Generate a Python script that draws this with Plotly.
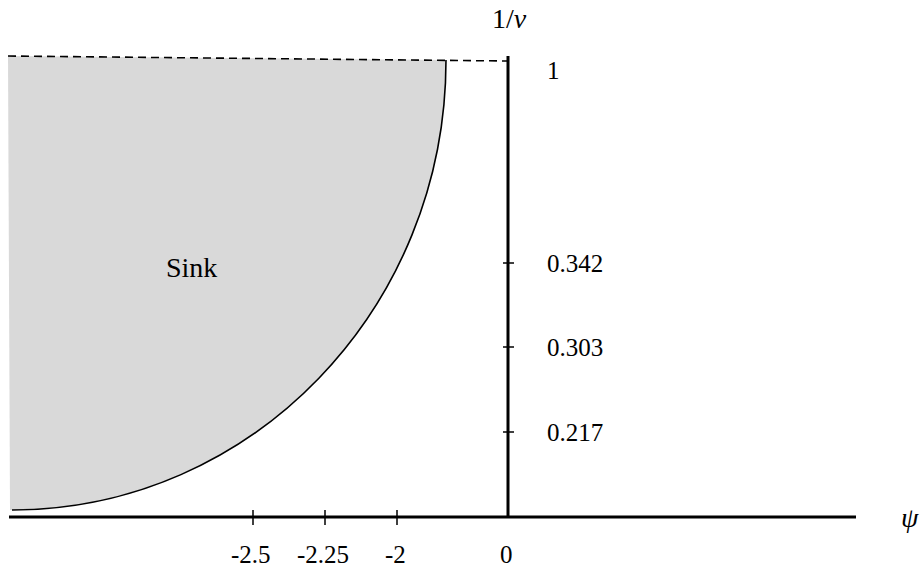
import plotly.graph_objects as go

# Schematic phase diagram in the (psi, 1/nu) plane.
# Horizontal positions are schematic: ticks are placed along the psi axis
# at fixed distances from the origin and labelled with their psi values.
psi_tick_labels = ["-2.5", "-2.25", "-2", "0"]
psi_tick_pos = [-255, -183, -111, 0]

inv_nu_tick_labels = ["0.217", "0.303", "0.342", "1"]
inv_nu_tick_pos = [85, 170, 254, 457]

# Extent of the schematic axes
psi_axis = [-499, 348]
inv_nu_axis = [0, 461]

# Sink region: quarter-ellipse boundary from the floor to the 1/nu = 1 line
sink_left = -496
sink_tip = -62
sink_floor = 7
sink_top = 457
sink_label = "Sink"

# Dashed guide line at 1/nu = 1
guide_start = (-500, 461)
guide_end = (0, 456)

K = 0.5523  # cubic Bezier constant for a quarter ellipse

fig = go.Figure()

shapes = []

# Filled sink region
c1 = (sink_left + K * (sink_tip - sink_left), sink_floor)
c2 = (sink_tip, sink_top - K * (sink_top - sink_floor))
fill_path = (
    f"M {sink_left-2},{sink_floor} "
    f"C {c1[0]},{c1[1]} {c2[0]},{c2[1]} {sink_tip},{sink_top} "
    f"L {guide_start[0]},{guide_start[1]} Z"
)
shapes.append(dict(type="path", path=fill_path, xref="x", yref="y",
                   fillcolor="#d9d9d9", line=dict(width=0), layer="below"))

# Sink boundary curve
curve_path = (
    f"M {sink_left},{sink_floor} "
    f"C {c1[0]},{c1[1]} {c2[0]},{c2[1]} {sink_tip},{sink_top}"
)
shapes.append(dict(type="path", path=curve_path, xref="x", yref="y",
                   line=dict(color="black", width=1.6)))

# Dashed guide at 1/nu = 1
shapes.append(dict(type="line", xref="x", yref="y",
                   x0=guide_start[0], y0=guide_start[1],
                   x1=guide_end[0], y1=guide_end[1],
                   line=dict(color="black", width=1.6, dash="8px,5px")))

# Axes
shapes.append(dict(type="line", xref="x", yref="y",
                   x0=psi_axis[0], y0=0, x1=psi_axis[1], y1=0,
                   line=dict(color="black", width=3)))
shapes.append(dict(type="line", xref="x", yref="y",
                   x0=0, y0=inv_nu_axis[0], x1=0, y1=inv_nu_axis[1],
                   line=dict(color="black", width=3)))

# Ticks crossing the axes
for xp, lab in zip(psi_tick_pos, psi_tick_labels):
    if xp != 0:
        shapes.append(dict(type="line", xref="x", yref="y",
                           x0=xp, y0=-8, x1=xp, y1=7,
                           line=dict(color="black", width=1.5)))
for yp, lab in zip(inv_nu_tick_pos, inv_nu_tick_labels):
    if lab != "1":
        shapes.append(dict(type="line", xref="x", yref="y",
                           x0=-5, y0=yp, x1=6, y1=yp,
                           line=dict(color="black", width=1.5)))

font = dict(family="Liberation Serif", size=25, color="black")
annotations = []
for xp, lab in zip(psi_tick_pos, psi_tick_labels):
    annotations.append(dict(x=xp - 2, y=-37, xref="x", yref="y", text=lab,
                            showarrow=False, font=font,
                            xanchor="center", yanchor="middle"))
for yp, lab in zip(inv_nu_tick_pos, inv_nu_tick_labels):
    dy = -10 if lab == "1" else 0
    annotations.append(dict(x=37, y=yp + dy, xref="x", yref="y", text=lab,
                            showarrow=False, font=font,
                            xanchor="left", yanchor="middle"))

annotations.append(dict(x=-317, y=250, xref="x", yref="y", text=sink_label,
                        showarrow=False, font=dict(font, size=28),
                        xanchor="center", yanchor="middle"))
annotations.append(dict(x=1, y=499, xref="x", yref="y", text="1/<i>ν</i>",
                        showarrow=False, font=dict(font, size=28),
                        xanchor="center", yanchor="middle"))
annotations.append(dict(x=402, y=0, xref="x", yref="y", text="<i>ψ</i>",
                        showarrow=False, font=dict(font, size=28),
                        xanchor="center", yanchor="middle"))

fig.update_layout(
    width=923, height=571,
    margin=dict(l=0, r=0, t=0, b=0),
    paper_bgcolor="white", plot_bgcolor="white",
    xaxis=dict(range=[-508, 415], visible=False, fixedrange=True),
    yaxis=dict(range=[-54, 517], visible=False, fixedrange=True),
    shapes=shapes, annotations=annotations, showlegend=False,
)

fig.write_html("out.html")
